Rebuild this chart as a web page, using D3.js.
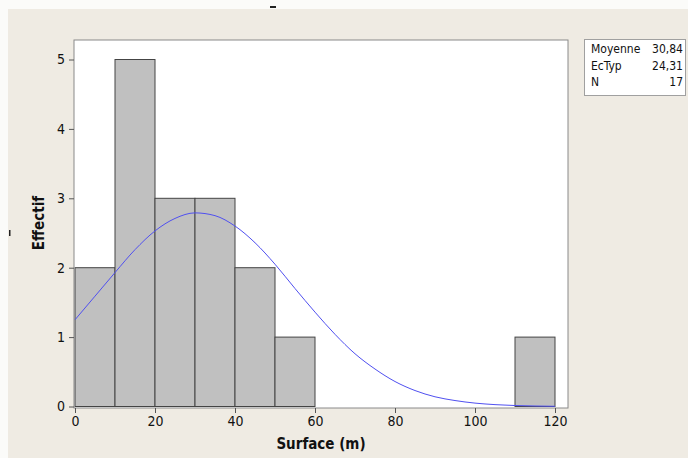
<!DOCTYPE html>
<html><head><meta charset="utf-8">
<script src="https://cdn.jsdelivr.net/npm/d3@7"></script>
<style>
html,body{margin:0;padding:0;background:#fff;}
svg{display:block;}
text{font-family:"DejaVu Sans Condensed","DejaVu Sans",Tahoma,sans-serif;font-stretch:condensed;fill:#111;}
</style></head>
<body>
<script>
// ---- data ----
const binStarts = [0, 10, 20, 30, 40, 50, 110];
const binEnds   = [10, 20, 30, 40, 50, 60, 120];
const counts    = [2, 5, 3, 3, 2, 1, 1];
const xTicks = [0, 20, 40, 60, 80, 100, 120];
const yTicks = [0, 1, 2, 3, 4, 5];
// fitted normal curve
const curveX = [0,5,10,15,20,25,30,35,40,45,50,55,60,65,70,75,80,85,90,95,100,105,110,115,120];
const curveY = [1.25,1.59,1.93,2.26,2.53,2.71,2.79,2.75,2.60,2.36,2.05,1.70,1.36,1.04,0.76,0.54,0.36,0.23,0.14,0.086,0.049,0.027,0.014,0.007,0.003];
const statLabels = ["Moyenne", "EcTyp", "N"];
const statValues = ["30,84", "24,31", "17"];

const W = 688, H = 458;
const svg = d3.select("body").append("svg").attr("width", W).attr("height", H);

// background
svg.append("rect").attr("x",0).attr("y",0).attr("width",W).attr("height",H).attr("fill","#fbfbf9");
svg.append("rect").attr("x",8).attr("y",9).attr("width",W-8).attr("height",H-9).attr("fill","#efebe3");

const plot = {left:74, top:40, right:568, bottom:408};
const x = d3.scaleLinear().domain([0,120]).range([75,555]);
const y = d3.scaleLinear().domain([0,5]).range([406.5,59.5]);

svg.append("rect").attr("x",plot.left).attr("y",plot.top)
  .attr("width",plot.right-plot.left).attr("height",plot.bottom-plot.top)
  .attr("fill","#ffffff");

// bars
const bars = binStarts.map((s,i)=>({s, e:binEnds[i], c:counts[i]}));
svg.append("g").selectAll("rect").data(bars).join("rect")
  .attr("x", d=>x(d.s)).attr("width", d=>x(d.e)-x(d.s))
  .attr("y", d=>y(d.c)).attr("height", d=>y(0)-y(d.c))
  .attr("fill","#c0c0c0").attr("stroke","#444").attr("stroke-width",1);

// curve
const pts = curveX.map((v,i)=>[v, curveY[i]]);
svg.append("path").datum(pts)
  .attr("d", d3.line().x(d=>x(d[0])).y(d=>y(d[1])).curve(d3.curveMonotoneX))
  .attr("fill","none").attr("stroke","#5050f0").attr("stroke-width",1);

// plot frame
svg.append("rect").attr("x",plot.left).attr("y",plot.top)
  .attr("width",plot.right-plot.left).attr("height",plot.bottom-plot.top)
  .attr("fill","none").attr("stroke","#8a8a8a").attr("stroke-width",1);

// axes
const xAxis = svg.append("g").attr("transform",`translate(0,${plot.bottom})`)
  .call(d3.axisBottom(x).tickValues(xTicks).tickSize(5).tickPadding(3).tickFormat(d3.format("d")));
const yAxis = svg.append("g").attr("transform",`translate(${plot.left},0)`)
  .call(d3.axisLeft(y).tickValues(yTicks).tickSize(5).tickPadding(4).tickFormat(d3.format("d")));
[xAxis,yAxis].forEach(g=>{
  g.select(".domain").remove();
  g.selectAll("line").attr("stroke","#555");
  g.selectAll("text").attr("font-size",14).attr("font-family",null).attr("fill","#111");
});

// axis titles
svg.append("text").attr("x",321).attr("y",449).attr("text-anchor","middle")
  .attr("font-size",15).attr("font-weight","bold").text("Surface (m)");
svg.append("text").attr("transform","translate(44,223) rotate(-90)").attr("text-anchor","middle")
  .attr("font-size",15).attr("font-weight","bold").text("Effectif");

// stats box
const lg = svg.append("g");
lg.append("rect").attr("x",584.5).attr("y",39.5).attr("width",101).attr("height",56)
  .attr("fill","#fff").attr("stroke","#a0a0a0");
statLabels.forEach((t,i)=>{
  lg.append("text").attr("x",591).attr("y",53+i*16.5).attr("font-size",12).text(t);
  lg.append("text").attr("x",683).attr("y",53+i*16.5).attr("font-size",12).attr("text-anchor","end").text(statValues[i]);
});

// small stray marks
svg.append("rect").attr("x",270).attr("y",6).attr("width",6).attr("height",2).attr("fill","#222");
svg.append("rect").attr("x",9).attr("y",230).attr("width",1.5).attr("height",6).attr("fill","#222");
</script>
</body></html>
